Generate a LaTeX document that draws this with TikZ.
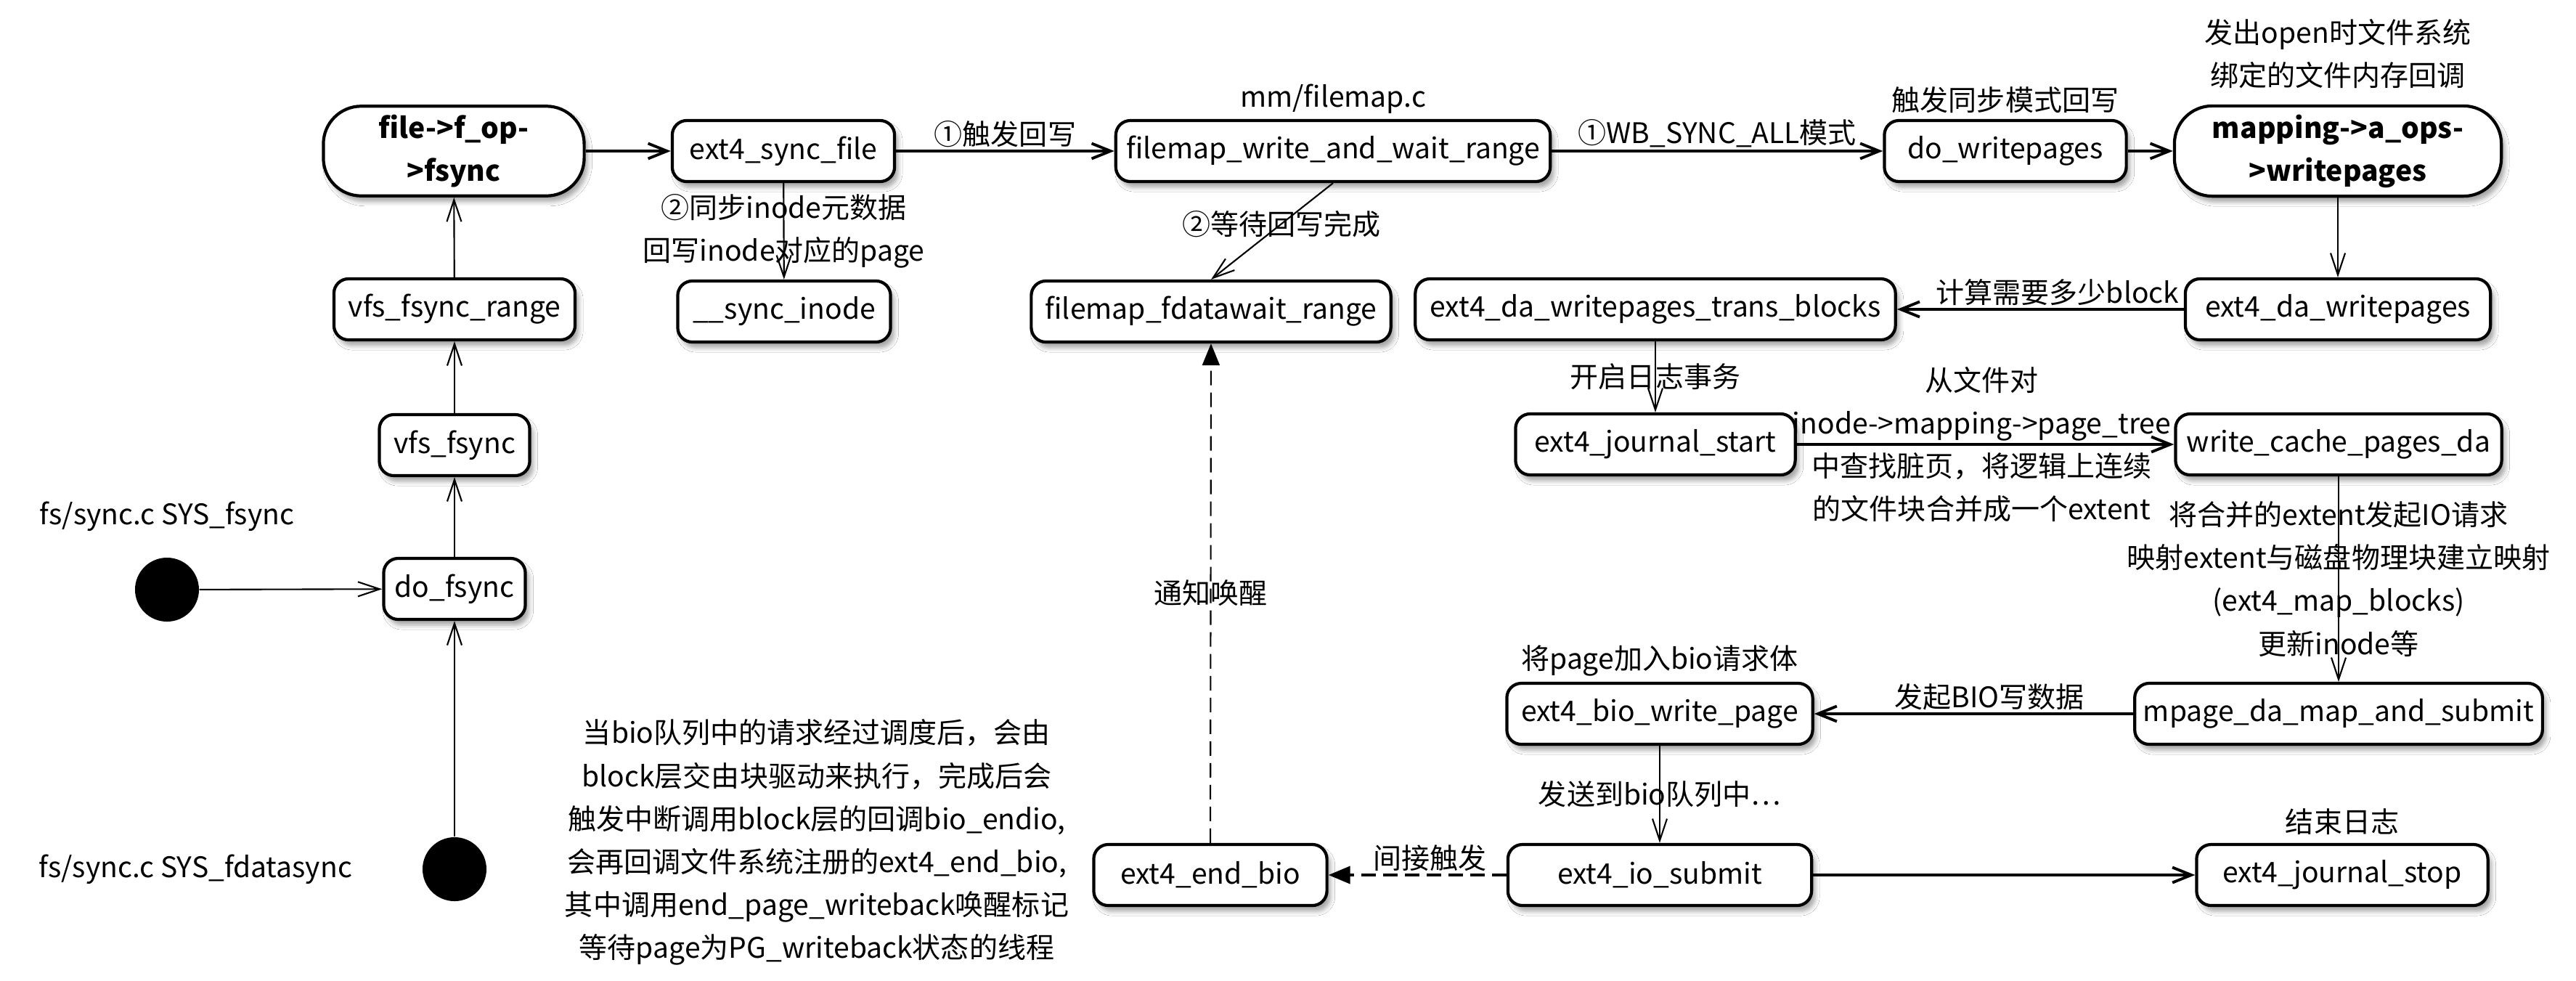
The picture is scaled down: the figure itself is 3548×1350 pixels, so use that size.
\documentclass[tikz,border=0pt]{standalone}
\usepackage{fontspec}
\setmainfont{Noto Sans CJK SC}
\usetikzlibrary{arrows.meta, positioning, shadows.blur}

\begin{document}
\begin{tikzpicture}[
    x=0.01cm, y=-0.01cm,
    every node/.style={font=\fontsize{11.1}{16.8}\selectfont},
    func/.style={
        rectangle,
        draw=black,
        line width=1.2pt,
        fill=white,
        rounded corners=0.2cm,
        minimum height=0.84cm,
        align=center,
        blur shadow={shadow xshift=0.5mm, shadow yshift=-0.8mm, shadow blur radius=0.6mm, shadow opacity=35}
    },
    entry/.style={
        func,
        rounded corners=0.52cm,
        minimum height=1.07cm,
        font=\fontsize{11.1}{16.8}\selectfont\bfseries
    },
    start/.style={circle, fill=black, minimum size=0.88cm, inner sep=0pt},
    tag/.style={inner sep=1pt},
    call/.style={-{Straight Barb[length=2.6mm, width=2.1mm]}, line width=1.1pt},
    sub/.style={-{Straight Barb[length=3mm, width=2mm]}, line width=0.6pt},
    notify/.style={-{Triangle[length=3mm, width=2.4mm]}, dash pattern=on 2mm off 1mm}
]
\useasboundingbox (0,0) rectangle (3548,1350);
\fill[white] (0,0) rectangle (3548,1350);

\node[entry, minimum width=3.59cm] (fop) at (625,208) {file->f\_op-\\>fsync};
\node[func, minimum width=3.06cm] (syncfile) at (1079,208) {ext4\_sync\_file};
\node[func, minimum width=5.98cm] (fwrite) at (1836,208) {filemap\_write\_and\_wait\_range};
\node[func, minimum width=3.33cm] (dowp) at (2762,208) {do\_writepages};
\node[entry, minimum width=4.50cm] (aops) at (3220,208) {mapping->a\_ops-\\>writepages};
\node[func, minimum width=2.93cm] (syncinode) at (1080,429) {\_\_sync\_inode};
\node[func, minimum width=4.95cm] (fwait) at (1668,429) {filemap\_fdatawait\_range};
\node[func, minimum width=6.61cm] (transblk) at (2280,426) {ext4\_da\_writepages\_trans\_blocks};
\node[func, minimum width=4.20cm] (dawp) at (3220,426) {ext4\_da\_writepages};
\node[func, minimum width=3.32cm] (vfsrange) at (626,426) {vfs\_fsync\_range};
\node[func, minimum width=2.07cm] (vfsfsync) at (626,613) {vfs\_fsync};
\node[func, minimum width=1.95cm] (dofsync) at (626,811) {do\_fsync};
\node[func, minimum width=3.85cm] (jstart) at (2280,612) {ext4\_journal\_start};
\node[func, minimum width=4.49cm] (wcpda) at (3221,612) {write\_cache\_pages\_da};
\node[func, minimum width=4.21cm] (biowp) at (2286,983) {ext4\_bio\_write\_page};
\node[func, minimum width=5.34cm] (mpage) at (3221,983) {mpage\_da\_map\_and\_submit};
\node[func, minimum width=3.21cm] (endbio) at (1667,1205) {ext4\_end\_bio};
\node[func, minimum width=4.18cm] (iosub) at (2286,1205) {ext4\_io\_submit};
\node[func, minimum width=4.01cm] (jstop) at (3226,1205) {ext4\_journal\_stop};
\node[start] (sysfsync) at (230,812) {};
\node[start] (sysfdsync) at (626,1197) {};

\node[tag, above=1pt of fwrite] (fwritelbl) {mm/filemap.c};
\node[tag, above=1pt of dowp] (dowplbl) {触发同步模式回写};
\node[tag, above=5pt of aops, align=center] (aopslbl) {发出open时文件系统\\绑定的文件内存回调};
\node[tag, above=1pt of biowp] (biowplbl) {将page加入bio请求体};
\node[tag, above=2pt of jstop] (jstoplbl) {结束日志};
\node[tag, above=9pt of sysfsync] (sysfsynclbl) {fs/sync.c SYS\_fsync};
\node[tag, left=0.92cm of sysfdsync] (sysfdsynclbl) {fs/sync.c SYS\_fdatasync};
\node[align=center] (endbionote) at (1125,1160) {当bio队列中的请求经过调度后，会由\\block层交由块驱动来执行，完成后会\\触发中断调用block层的回调bio\_endio,\\会再回调文件系统注册的ext4\_end\_bio,\\其中调用end\_page\_writeback唤醒标记\\等待page为PG\_writeback状态的线程};

\draw[sub] (sysfsync) -- (dofsync);
\draw[sub] (sysfdsync) -- (dofsync);
\draw[sub] (dofsync) -- (vfsfsync);
\draw[sub] (vfsfsync) -- (vfsrange);
\draw[sub] (vfsrange) -- (fop);
\draw[call] (fop) -- (syncfile);
\draw[call] (syncfile) -- node[midway, above, tag] {①触发回写} (fwrite);
\draw[sub] (syncfile) -- node[midway, align=center] {②同步inode元数据\\回写inode对应的page} (syncinode);
\draw[sub] (fwrite.south) -- node[midway, xshift=0.13cm, yshift=0.1cm] {②等待回写完成} (fwait.north);
\draw[call] (fwrite) -- node[midway, above, tag] {①WB\_SYNC\_ALL模式} (dowp);
\draw[call] (dowp) -- (aops);
\draw[sub] (aops) -- (dawp);
\draw[call] (dawp) -- node[pos=0.44, above, tag] {计算需要多少block} (transblk);
\draw[sub] (transblk) -- node[midway] {开启日志事务} (jstart);
\draw[call] (jstart) -- node[midway, xshift=-0.05cm, align=center] {从文件对\\inode->mapping->page\_tree\\中查找脏页，将逻辑上连续\\的文件块合并成一个extent} (wcpda);
\draw[sub] (wcpda) -- node[midway, align=center] {将合并的extent发起IO请求\\映射extent与磁盘物理块建立映射\\(ext4\_map\_blocks)\\更新inode等} (mpage);
\draw[call] (mpage) -- node[pos=0.45, above, tag] {发起BIO写数据} (biowp);
\draw[sub] (biowp) -- node[midway] {发送到bio队列中…} (iosub);
\draw[call] (iosub) -- (jstop);
\draw[call, notify] (iosub) -- node[pos=0.43, above, tag] {间接触发} (endbio);
\draw[sub, notify] (endbio) -- node[midway] {通知唤醒} (fwait);

\end{tikzpicture}
\end{document}
